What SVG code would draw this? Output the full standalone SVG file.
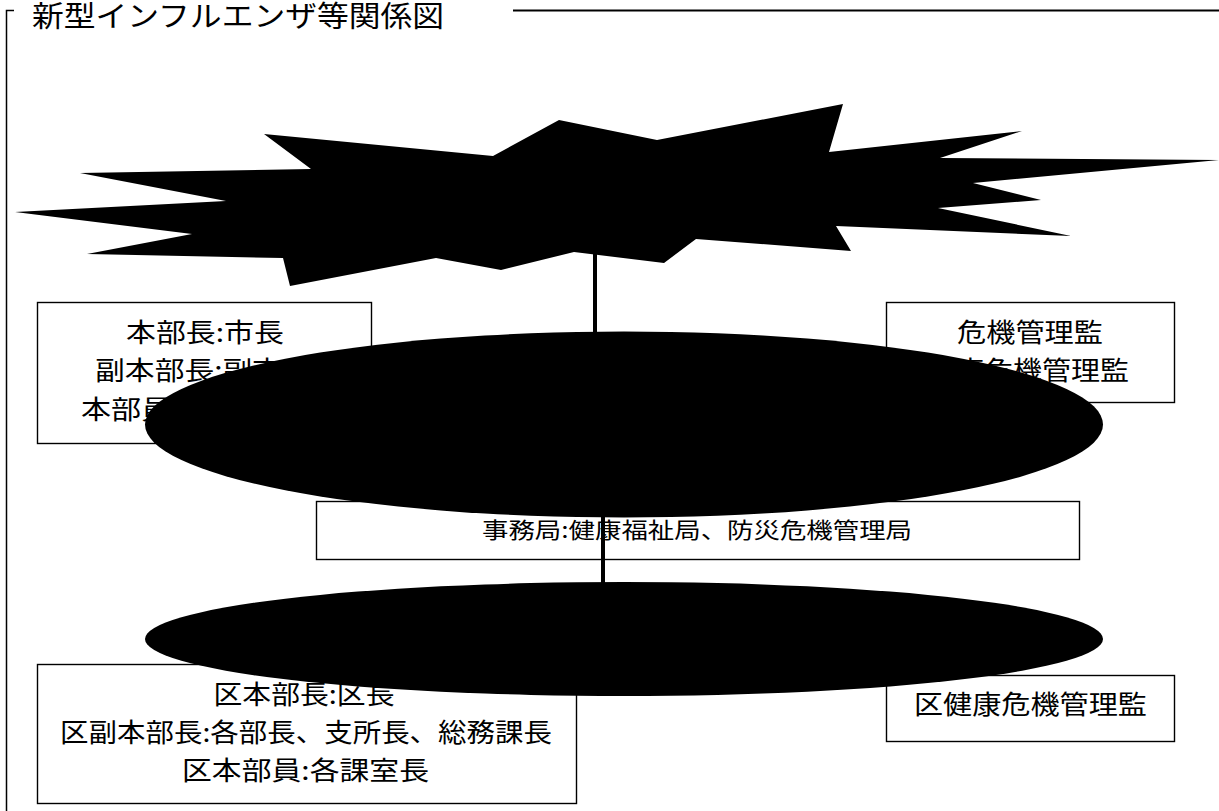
<svg xmlns="http://www.w3.org/2000/svg" width="1219" height="811" viewBox="0 0 1219 811">
<style>
.box{fill:#fff;stroke:#000;stroke-width:1.4}
.t{font-family:"Noto Sans CJK JP","Noto Sans CJK SC",sans-serif;font-size:26px;fill:#000}
.ts{font-family:"Noto Sans CJK JP","Noto Sans CJK SC",sans-serif;font-size:22px;fill:#000}
.title{font-family:"Liberation Serif","Noto Sans CJK JP",serif;font-size:29px;fill:#000}
.frame{fill:none;stroke:#000;stroke-width:1.5}
.conn{stroke:#000;stroke-width:4;fill:none}
.blk{fill:#000;stroke:none}
</style>
<rect x="0" y="0" width="1219" height="811" fill="#fff"/>
<g id="frame">
  <path class="frame" d="M6.5,811 V10.5 H14"/>
  <line x1="513" y1="10.5" x2="1219" y2="10.5" stroke="#000" stroke-width="2"/>
  <text class="title" x="32" y="27" textLength="412" lengthAdjust="spacingAndGlyphs">新型インフルエンザ等関係図</text>
</g>
<g id="node-honbu">
  <rect class="box" x="37.5" y="302.5" width="334" height="141"/>
  <text class="t" x="126" y="342" textLength="158" lengthAdjust="spacingAndGlyphs">本部長:市長</text>
  <text class="t" x="95" y="380" textLength="217" lengthAdjust="spacingAndGlyphs">副本部長:副市長</text>
  <text class="t" x="81" y="419" textLength="189" lengthAdjust="spacingAndGlyphs">本部員:各局長</text>
</g>
<g id="node-kiki">
  <rect class="box" x="886.5" y="302.5" width="288" height="100"/>
  <text class="t" x="957" y="342" textLength="146" lengthAdjust="spacingAndGlyphs">危機管理監</text>
  <text class="t" x="926" y="380" textLength="203" lengthAdjust="spacingAndGlyphs">健康危機管理監</text>
</g>
<g id="node-jimukyoku">
  <rect class="box" x="316.5" y="501.5" width="763" height="58"/>
  <text class="ts" x="482" y="538" textLength="430" lengthAdjust="spacingAndGlyphs">事務局:健康福祉局、防災危機管理局</text>
</g>
<g id="node-ku-honbu">
  <rect class="box" x="37.5" y="664.5" width="539" height="139"/>
  <text class="t" x="213.5" y="704" textLength="181" lengthAdjust="spacingAndGlyphs">区本部長:区長</text>
  <text class="t" x="60" y="742" textLength="492" lengthAdjust="spacingAndGlyphs">区副本部長:各部長、支所長、総務課長</text>
  <text class="t" x="182" y="780" textLength="247" lengthAdjust="spacingAndGlyphs">区本部員:各課室長</text>
</g>
<g id="node-ku-kiki">
  <rect class="box" x="886.5" y="675.5" width="288" height="66"/>
  <text class="t" x="914" y="714" textLength="233" lengthAdjust="spacingAndGlyphs">区健康危機管理監</text>
</g>
<g id="connectors">
  <line class="conn" x1="595" y1="240" x2="595" y2="400"/>
  <line class="conn" x1="603" y1="480" x2="603" y2="620"/>
</g>
<g id="node-starburst">
  <polygon class="blk" points="559,120 657,140 843,104 829,152 1022,131 940,158 1219,160 973,183 1041,200 938,208 1071,236 836,226 851,251 696,239 664,263 574,252 501,270 436,258 290,286 283,258 87,254 192,234 15,212 226,201 80,173 311,169 264,134 493,156"/>
</g>
<g id="node-ellipse-upper">
  <ellipse class="blk" cx="624" cy="424.5" rx="479" ry="93"/>
</g>
<g id="node-ellipse-lower">
  <ellipse class="blk" cx="624" cy="639" rx="479" ry="57"/>
</g>
</svg>
